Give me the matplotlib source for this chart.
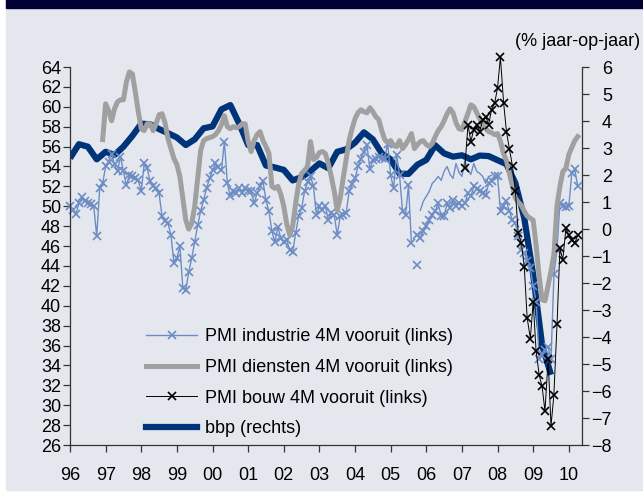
import matplotlib

matplotlib.use("Agg")
import matplotlib.pyplot as plt
import numpy as np

plt.rcParams["font.family"] = ["Liberation Sans", "DejaVu Sans"]

W, H, DPI = 643, 494, 100
PANEL = "#e4e8ee"
BAND = "#000033"
NAVY = "#00347a"
GREY = "#a0a0a0"
LBLUE = "#6d8cc4"
FS = 13

# PMI industrie 4M vooruit, monthly from Jan 1996
industrie = [
    50.0, 49.6, 49.2, 50.3, 50.9, 50.5, 50.3, 50.2, 50.0, 47.0, 51.8, 52.3,
    54.0, 54.5, 55.3, 54.2, 53.5, 55.0, 53.5, 52.1, 53.1, 53.0, 52.8, 52.6,
    51.5, 54.3, 53.8, 52.5, 52.0, 51.8, 51.3, 49.0, 48.5, 48.3, 47.1, 44.3,
    44.8, 46.0, 41.8, 41.6, 43.4, 44.8, 46.4, 48.1, 49.5, 50.6, 51.8, 52.8,
    53.6, 54.3, 53.9, 53.6, 56.5, 52.3, 51.0, 51.5, 51.3, 51.8, 51.3, 51.8,
    51.5, 51.5, 50.3, 51.3, 52.0, 52.5, 50.6, 49.5, 47.5, 46.4, 47.9, 46.8,
    46.4, 46.6, 45.6, 45.4, 47.3, 49.0, 49.8, 51.5, 52.4, 53.0, 52.0, 49.1,
    50.0, 49.6, 50.0, 48.6, 49.3, 49.1, 47.1, 49.0, 49.1, 49.3, 51.5, 52.2,
    52.8, 54.0, 54.8, 55.5, 56.2, 53.7, 54.7, 54.8, 55.0, 54.9, 54.8, 56.3,
    53.1, 51.8, 55.2, 53.1, 49.5, 49.1, 52.1, 46.3, np.nan, 47.1, 46.8, 47.5,
    48.0, 48.6, 49.1, 49.5, 50.3, 49.0, 49.0, 50.3, 49.8, 50.6, 50.0, 50.3,
    50.0, 50.3, 51.3, 51.0, 52.0, 51.7, 51.5, 51.3, 51.1, 52.3, 52.5, 53.0,
    53.0, 49.5, 50.0, 50.5, 49.5, 48.6, 48.3, 47.0, 45.6, 45.3, 44.5, 43.8,
    42.0, 40.4, 34.6, 35.0, 35.6, 35.9, 34.6, 43.2, 45.6, 50.3, 50.0, 49.9,
    50.0, 53.3, 53.7, 52.0,
]
industrie_lone = [(117, 44.1)]
# second, unmarked industrie trace 2005-2008
industrie_upper_start = 118
industrie_upper = [
    49.6, 50.5, 51.0, 51.5, 52.3, 52.6, 53.0, 52.6, 53.5, 54.0, 53.2, 52.8,
    54.3, 53.4, 53.0, 54.6, 53.6, 53.2, 54.3, 53.5, 53.3, 53.0, 52.3, 53.0,
    53.1,
]

# PMI diensten 4M vooruit, monthly from Dec 1996
diensten_start = 11
diensten = [
    56.7, 60.3, 59.6, 58.6, 59.8, 60.5, 60.7, 60.7, 62.5, 63.5, 63.3, 61.5,
    59.5, 57.8, 57.6, 58.3, 58.3, 57.6, 58.3, 59.2, 59.3, 58.4, 56.8, 55.8,
    54.8, 54.2, 53.0, 50.8, 48.6, 47.7, 48.3, 50.0, 52.8, 55.6, 56.6, 56.8,
    56.9, 57.0, 57.2, 57.6, 58.2, 59.1, 58.0, 57.8, 58.0, 57.9, 58.0, 58.3,
    58.3, 56.5, 55.5, 56.6, 57.2, 57.5, 56.6, 56.0, 55.3, 52.0, 51.8, 52.0,
    51.2, 50.0, 48.2, 47.1, 48.0, 50.3, 52.2, 53.3, 53.6, 54.0, 56.5, 54.7,
    54.9, 55.4, 55.5, 55.3, 54.3, 53.0, 51.5, 49.6, 50.8, 52.8, 54.7, 56.6,
    57.8, 58.8, 59.4, 59.7, 59.5, 59.4, 59.9, 59.5, 59.0, 58.7, 57.6, 56.7,
    56.4, 56.6, 56.1, 56.0, 56.6, 55.8, 56.2, 56.7, 57.3, 55.8, 56.2, 56.5,
    56.6, 56.2, 56.0, 56.3, 57.0, 57.6, 58.0, 58.6, 59.3, 59.8, 59.4, 58.4,
    57.8, 57.7, 58.5, 59.3, 60.2, 60.0, 59.4, 58.8, 58.2, 57.8, 57.5, 57.4,
    57.2, 57.3, 56.5, 55.3, 54.6, 53.3, 52.0, 50.8, 50.4, 50.1, 49.5, 49.0,
    48.8, 48.6, 46.0, 43.0, 40.6, 40.5, 42.0, 43.5, 45.2, 50.0, 52.0, 53.5,
    53.8, 55.2, 55.9, 56.6, 57.0,
]

# PMI bouw 4M vooruit
bouw_x = [
    2007.08, 2007.17, 2007.25, 2007.33, 2007.42, 2007.50, 2007.58, 2007.67,
    2007.75, 2007.83, 2007.92, 2008.00, 2008.08, 2008.17, 2008.25, 2008.33,
    2008.42, 2008.50, 2008.58, 2008.67, 2008.75, 2008.83, 2008.92, 2009.00,
    2009.08, 2009.17, 2009.25, 2009.33, 2009.42, 2009.50, 2009.58, 2009.67,
    2009.75, 2009.83, 2009.92, 2010.00, 2010.08, 2010.17, 2010.25,
]
bouw = [
    53.8, 58.2, 56.5, 57.7, 58.2, 57.5, 58.7, 59.0, 58.2, 59.7, 60.4, 61.9,
    65.0, 60.4, 57.5, 55.8, 54.0, 51.5, 47.3, 46.3, 43.9, 38.8, 36.7, 40.4,
    35.5, 33.0, 31.9, 29.4, 34.6, 27.9, 31.0, 38.2, 45.8, 44.6, 47.8, 47.1,
    46.6, 46.3, 47.1,
]

# bbp (% jaar-op-jaar), quarterly from 1996
bbp = [
    2.62, 3.14, 3.05, 2.58, 2.86, 2.74, 3.05, 3.45, 3.90, 3.88, 3.70, 3.55,
    3.39, 3.11, 3.32, 3.73, 3.80, 4.43, 4.59, 3.90, 3.11, 3.11, 2.35, 2.28,
    2.19, 1.80, 1.92, 2.15, 2.43, 2.25, 2.86, 2.95, 3.20, 3.58, 3.32, 2.80,
    2.58, 2.05, 2.04, 2.38, 2.56, 3.10, 2.80, 2.68, 2.73, 2.58, 2.72, 2.70,
    2.55, 2.40, 1.70, 0.40, -1.70, -4.30, -5.40,
]

year_labels = ["96", "97", "98", "99", "00", "01", "02", "03", "04", "05",
               "06", "07", "08", "09", "10"]

fig = plt.figure(figsize=(W / DPI, H / DPI), dpi=DPI)
fig.patch.set_facecolor("white")
fig.add_artist(plt.Rectangle((6 / W, 4 / H), 1, 1, transform=fig.transFigure,
                             color=PANEL, zorder=-2))
fig.add_artist(plt.Rectangle((6 / W, 1 - 8 / H), 1, 1, transform=fig.transFigure,
                             color=BAND, zorder=-1))

ax = fig.add_axes([70 / W, 1 - 445 / H, 512 / W, 378 / H])
ax.set_facecolor("none")
ax2 = ax.twinx()
ax.set_zorder(ax2.get_zorder() + 1)
ax.patch.set_visible(False)

m_ind = 1996 + np.arange(len(industrie)) / 12
ax.plot(m_ind, industrie, color=LBLUE, lw=1.0, marker="x", ms=6, mew=1.2,
        label="PMI industrie 4M vooruit (links)", clip_on=False)
for m, v in industrie_lone:
    ax.plot(1996 + m / 12, v, color=LBLUE, marker="x", ms=6, mew=1.2, ls="none")
m_up = 1996 + (industrie_upper_start + np.arange(len(industrie_upper))) / 12
ax.plot(m_up, industrie_upper, color=LBLUE, lw=1.0)

m_dns = 1996 + (diensten_start + np.arange(len(diensten))) / 12
ax.plot(m_dns, diensten, color=GREY, lw=3.6, label="PMI diensten 4M vooruit (links)",
        solid_joinstyle="round")
ax.plot(bouw_x, bouw, color="black", lw=0.7, marker="x", ms=6, mew=1.2,
        label="PMI bouw 4M vooruit (links)", clip_on=False)

q = 1996 + np.arange(len(bbp)) / 4
ax.plot([], [], color=NAVY, lw=4.5, label="bbp (rechts)")
ax2.plot(q, bbp, color=NAVY, lw=4.5, solid_joinstyle="round", solid_capstyle="butt")

ax.set_xlim(1996, 2010.37)
ax.set_ylim(26, 64)
ax2.set_ylim(-8, 6)
ax.set_yticks(np.arange(26, 65, 2))
ax2.set_yticks(np.arange(-8, 7, 1))
ax.set_xticks(np.arange(1996, 2011))
ax.set_xticklabels(year_labels)

for a in (ax, ax2):
    a.spines["top"].set_visible(False)
    for s in a.spines.values():
        s.set_color("#333333")
        s.set_linewidth(0.9)
ax.spines["right"].set_visible(False)
ax2.spines["left"].set_visible(False)
ax2.spines["bottom"].set_visible(False)

ax.tick_params(axis="y", direction="out", length=5, width=0.9, color="#333333",
               pad=1.5, labelsize=FS)
ax.tick_params(axis="x", direction="out", length=5, width=0.9, color="#333333",
               pad=11, labelsize=FS)
ax2.tick_params(axis="y", direction="out", length=5, width=0.9, color="#333333",
                pad=16.5, labelsize=FS)
for t in ax2.get_yticklabels():
    t.set_horizontalalignment("right")

fig.text(640 / W, 1 - 42 / H, "(% jaar-op-jaar)", ha="right", va="center",
         fontsize=FS)

handles, labels = ax.get_legend_handles_labels()
ax.legend(handles, labels, loc="upper left", bbox_to_anchor=(130 / W, 1 - 312 / H),
          bbox_transform=fig.transFigure, frameon=False, fontsize=FS,
          handlelength=2.83, numpoints=1, labelspacing=0.76, handletextpad=0.4)

fig.savefig("out.png", dpi=DPI)
